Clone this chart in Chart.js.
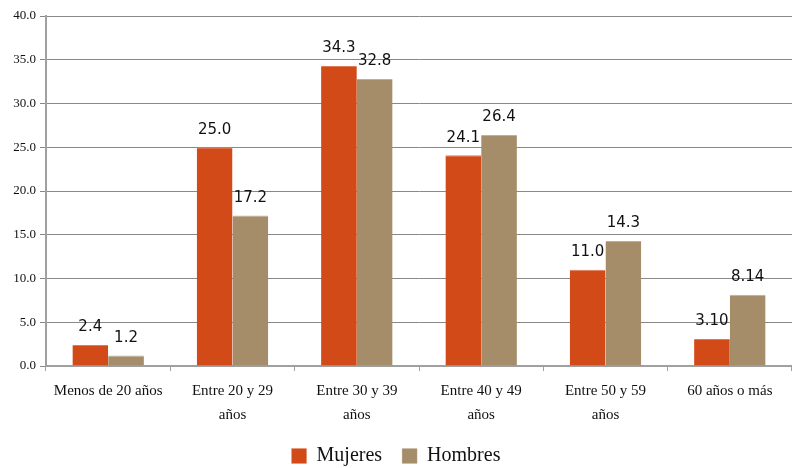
<!DOCTYPE html>
<html>
<head>
<meta charset="utf-8">
<script src="https://cdn.jsdelivr.net/npm/chart.js@4/dist/chart.umd.min.js"></script>
<style>
  html, body { margin: 0; padding: 0; background: #fff; }
  #wrap { width: 792px; height: 468px; }
</style>
</head>
<body>
<div id="wrap"><canvas id="edadChart"></canvas></div>
<script>
// Distribución por grupo de edad (%)
const categorias = [
  'Menos de 20 años',
  ['Entre 20 y 29', 'años'],
  ['Entre 30 y 39', 'años'],
  ['Entre 40 y 49', 'años'],
  ['Entre 50 y 59', 'años'],
  '60 años o más'
];
const mujeres = [2.4, 25.0, 34.3, 24.1, 11.0, 3.10];
const hombres = [1.2, 17.2, 32.8, 26.4, 14.3, 8.14];
// decimales mostrados en las etiquetas de cada grupo
const decimales = [1, 1, 1, 1, 1, 2];
const ticksY = [0, 5, 10, 15, 20, 25, 30, 35, 40];

const serif = "'Liberation Serif', 'DejaVu Serif', serif";

// etiquetas de valor encima de cada barra
const etiquetas = {
  id: 'etiquetas',
  afterDatasetsDraw(chart) {
    const ctx = chart.ctx;
    ctx.save();
    ctx.font = "15px 'DejaVu Sans', sans-serif";
    ctx.fillStyle = '#111';
    ctx.textAlign = 'center';
    ctx.textBaseline = 'bottom';
    chart.data.datasets.forEach((ds, i) => {
      chart.getDatasetMeta(i).data.forEach((bar, j) => {
        const txt = ds.data[j].toFixed(decimales[j]);
        ctx.fillText(txt, bar.x, bar.y - 10);
      });
    });
    ctx.restore();
  }
};

// leyenda más baja: se fija su alto tras el cálculo normal
const leyendaCompacta = {
  id: 'leyendaCompacta',
  afterInit(chart) {
    const lg = chart.legend;
    const fit = lg.fit;
    lg.fit = function () {
      fit.call(this);
      this.height = 42;
    };
  }
};

new Chart(document.getElementById('edadChart'), {
  type: 'bar',
  data: {
    labels: categorias,
    datasets: [{
      label: 'Mujeres',
      data: mujeres,
      backgroundColor: '#d24a18',
      borderColor: '#e07a55',
      borderWidth: { top: 1, left: 0, right: 0, bottom: 0 }
    }, {
      label: 'Hombres',
      data: hombres,
      backgroundColor: '#a68d69',
      borderColor: '#c2ae90',
      borderWidth: { top: 1, left: 0, right: 0, bottom: 0 }
    }]
  },
  options: {
    responsive: true,
    maintainAspectRatio: false,
    animation: false,
    layout: { padding: { top: 16, right: 0, left: 0, bottom: 0 } },
    datasets: {
      bar: { categoryPercentage: 0.575, barPercentage: 1.0 }
    },
    plugins: {
      tooltip: { enabled: false },
      legend: {
        position: 'bottom',
        labels: {
          font: { family: serif, size: 20 },
          color: '#111',
          boxWidth: 15,
          boxHeight: 15,
          padding: 20
        }
      }
    },
    scales: {
      x: {
        offset: true,
        grid: {
          display: true,
          drawOnChartArea: false,
          drawTicks: true,
          tickLength: 5,
          offset: true,
          color: '#a0a0a0'
        },
        border: { color: '#a0a0a0', width: 2 },
        ticks: {
          font: { family: serif, size: 15, lineHeight: 1.6 },
          color: '#111',
          padding: 8,
          maxRotation: 0,
          autoSkip: false
        },
        afterFit(axis) { axis.height = 60; }
      },
      y: {
        min: 0,
        max: 40,
        afterBuildTicks(axis) { axis.ticks = ticksY.map(v => ({ value: v })); },
        grid: {
          color: '#888',
          tickLength: 6,
          lineWidth: 1
        },
        border: { color: '#a0a0a0', width: 2 },
        ticks: {
          font: { family: serif, size: 13 },
          color: '#111',
          padding: 4,
          callback: v => v.toFixed(1)
        },
        afterFit(axis) { axis.width = 46; }
      }
    }
  },
  plugins: [etiquetas, leyendaCompacta]
});
</script>
</body>
</html>
